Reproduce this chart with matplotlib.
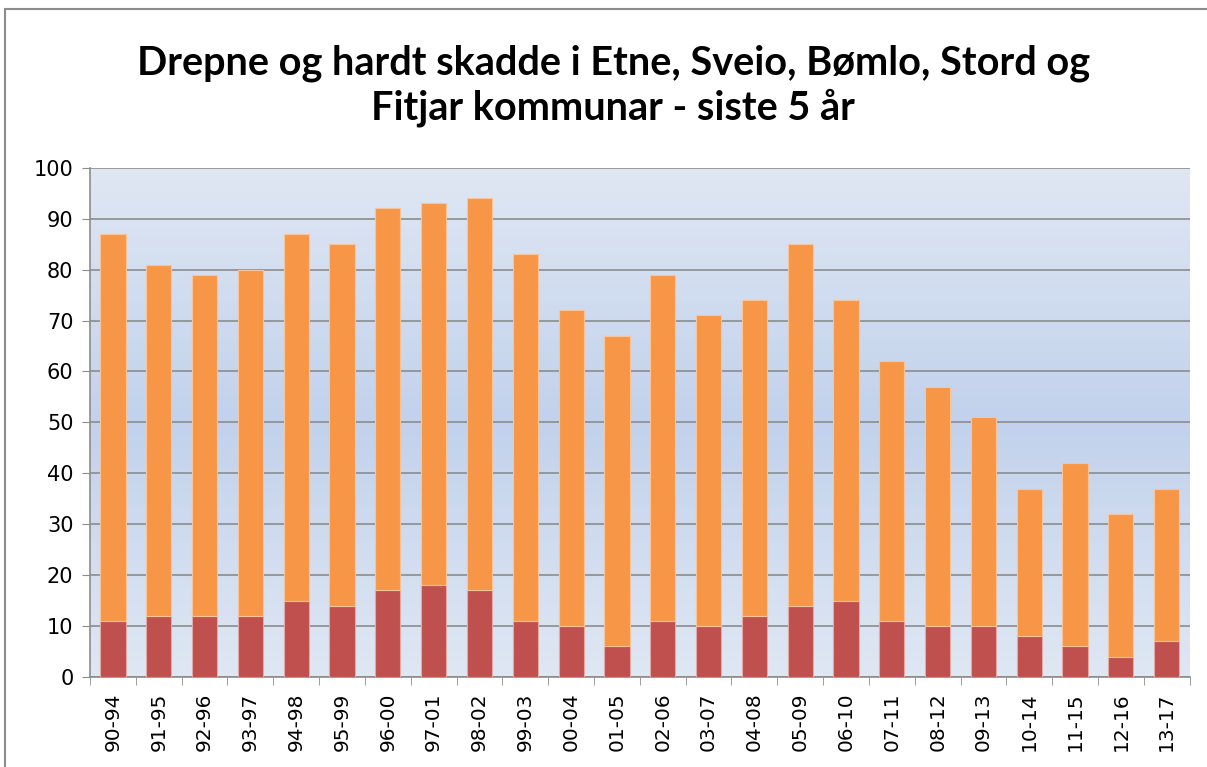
import numpy as np
import matplotlib.pyplot as plt
from matplotlib.patches import Rectangle
from matplotlib.colors import LinearSegmentedColormap

periods = ['90-94', '91-95', '92-96', '93-97', '94-98', '95-99', '96-00', '97-01',
           '98-02', '99-03', '00-04', '01-05', '02-06', '03-07', '04-08', '05-09',
           '06-10', '07-11', '08-12', '09-13', '10-14', '11-15', '12-16', '13-17']
drepne = [11, 12, 12, 12, 15, 14, 17, 18, 17, 11, 10, 6, 11, 10, 12, 14, 15, 11, 10, 10, 8, 6, 4, 7]
totalt = [87, 81, 79, 80, 87, 85, 92, 93, 94, 83, 72, 67, 79, 71, 74, 85, 74, 62, 57, 51, 37, 42, 32, 37]
hardt_skadde = [t - d for t, d in zip(totalt, drepne)]

fig = plt.figure(figsize=(12.07, 7.67), dpi=100)
ax = fig.add_axes([0.0746, 0.1173, 0.911, 0.664])

# gradient background in the plot area
grad = np.concatenate([np.linspace(0, 1, 50), np.linspace(1, 0, 50)]).reshape(-1, 1)
cmap = LinearSegmentedColormap.from_list('bg', ['#dfe7f3', '#c2d2ec'])
ax.imshow(grad, cmap=cmap, aspect='auto', extent=[0, 1, 0, 1],
          transform=ax.transAxes, zorder=0)

x = np.arange(len(periods))
ax.bar(x, drepne, width=0.55, color='#c0504d', edgecolor='#e3a9a6', linewidth=0.8, zorder=3)
ax.bar(x, hardt_skadde, width=0.55, bottom=drepne, color='#f79646',
       edgecolor='#f9c49a', linewidth=0.8, zorder=3)

ax.set_xlim(-0.5, len(periods) - 0.5)
ax.set_ylim(0, 100)
ax.set_yticks(range(0, 101, 10))
ax.yaxis.grid(True, color='#8c8c8c', linewidth=1.2, zorder=1)
ax.set_axisbelow(True)

ax.set_xticks(x)
ax.set_xticklabels(periods, rotation=90, fontsize=14.5, family='DejaVu Sans')
ax.set_xticks(np.arange(-0.5, len(periods), 1), minor=True)
ax.tick_params(axis='x', which='major', length=0, pad=11)
ax.tick_params(axis='x', which='minor', length=6, color='#8c8c8c', direction='out')
ax.tick_params(axis='y', length=6, color='#8c8c8c', labelsize=15, pad=6)

for s in ['top', 'right']:
    ax.spines[s].set_visible(False)
for s in ['left', 'bottom']:
    ax.spines[s].set_color('#8c8c8c')
    ax.spines[s].set_linewidth(1.2)

fig.text(0.508, 0.888, 'Drepne og hardt skadde i Etne, Sveio, Bømlo, Stord og\nFitjar kommunar - siste 5 år',
         ha='center', va='center', fontsize=28.5, fontweight='bold', family='Lato',
         linespacing=1.22)

fig.patches.append(Rectangle((0.004, -0.01), 1.1, 1.0 - 0.012 + 0.01, transform=fig.transFigure,
                             fill=False, edgecolor='#8c8c8c', linewidth=1.5))

fig.savefig('out.png', dpi=100)
